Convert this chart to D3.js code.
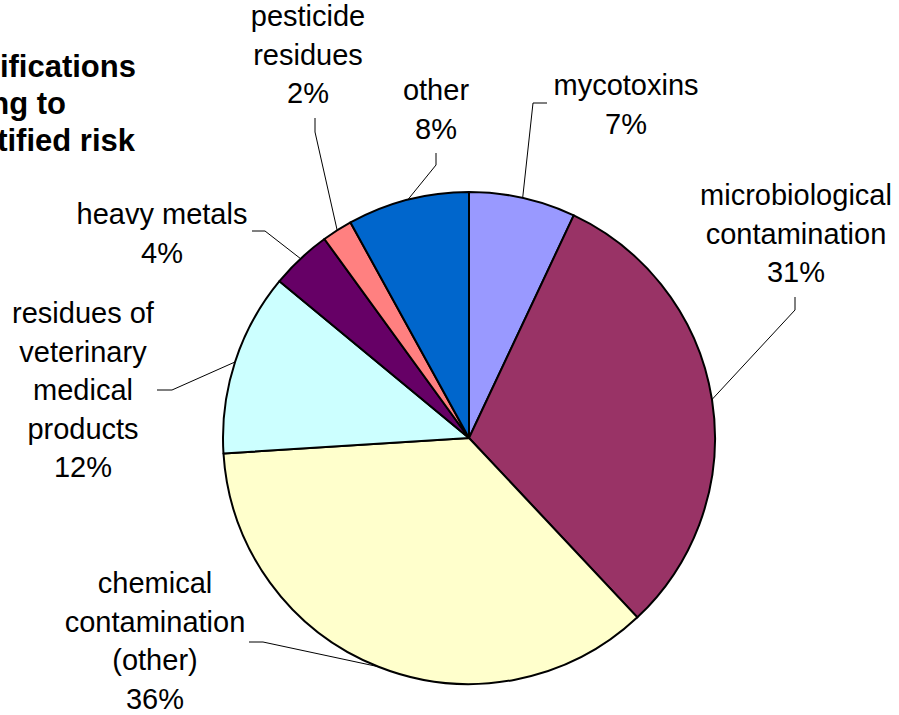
<!DOCTYPE html>
<html>
<head>
<meta charset="utf-8">
<script src="https://cdn.jsdelivr.net/npm/d3@7"></script>
<style>
  html, body { margin: 0; padding: 0; background: #fff; }
  svg { display: block; font-family: "Liberation Sans", Arial, sans-serif; }
</style>
</head>
<body>
<div id="chart"></div>
<script>
// categories, clockwise from 12 o'clock
const categories = ["mycotoxins", "microbiological contamination", "chemical contamination (other)",
  "residues of veterinary medical products", "heavy metals", "pesticide residues", "other"];
const shares = [7, 31, 36, 12, 4, 2, 8];
// how each label is broken into lines
const labelLines = [
  ["mycotoxins"],
  ["microbiological", "contamination"],
  ["chemical", "contamination", "(other)"],
  ["residues of", "veterinary", "medical", "products"],
  ["heavy metals"],
  ["pesticide", "residues"],
  ["other"]
];
const sliceColors = ["#9999FF", "#993366", "#FFFFCC", "#CCFFFF", "#660066", "#FF8080", "#0066CC"];
// visible part of the (clipped) title
const titleLines = ["ifications", "ng to", "tified risk"];

// label placement: text centre x, first baseline y, leader elbow and leader end
const labelLayout = [
  { x: 626, y: 95,  elbow: [533, 103], end: [547, 103] },
  { x: 796, y: 205, elbow: [795, 310], end: [795, 297] },
  { x: 155, y: 593, elbow: [263, 642], end: [249, 642] },
  { x: 83,  y: 323, elbow: [172, 390], end: [157, 390] },
  { x: 162, y: 224, elbow: [265, 231], end: [252, 231] },
  { x: 308, y: 26,  elbow: [315, 132], end: [315, 118] },
  { x: 436, y: 100, elbow: [436, 165], end: [436, 153] }
];

const width = 899, height = 715;
const cx = 469, cy = 438, radius = 246;
const lineH = 38.5;

const data = categories.map((c, i) => ({ name: c, value: shares[i], lines: labelLines[i], color: sliceColors[i], layout: labelLayout[i] }));

const svg = d3.select("#chart")
  .append("svg")
  .attr("width", width)
  .attr("height", height);

const pie = d3.pie()
  .sort(null)
  .value(d => d.value);

const arc = d3.arc()
  .innerRadius(0)
  .outerRadius(radius);

const arcs = pie(data);

const g = svg.append("g")
  .attr("transform", `translate(${cx},${cy})`);

g.selectAll("path.slice")
  .data(arcs)
  .enter().append("path")
  .attr("class", "slice")
  .attr("d", arc)
  .attr("fill", d => d.data.color)
  .attr("stroke", "#000")
  .attr("stroke-width", 2)
  .attr("stroke-linejoin", "round");

// leader lines: from the rim at the slice's mid angle to the label
const edgePoint = d => {
  const a = (d.startAngle + d.endAngle) / 2;
  return [cx + Math.sin(a) * radius, cy - Math.cos(a) * radius];
};

svg.selectAll("polyline.leader")
  .data(arcs)
  .enter().append("polyline")
  .attr("class", "leader")
  .attr("points", d => [edgePoint(d), d.data.layout.elbow, d.data.layout.end].map(p => p.join(",")).join(" "))
  .attr("fill", "none")
  .attr("stroke", "#000")
  .attr("stroke-width", 1);

// labels
const labels = svg.selectAll("text.label")
  .data(arcs)
  .enter().append("text")
  .attr("class", "label")
  .attr("text-anchor", "middle")
  .attr("font-size", 29)
  .attr("fill", "#000");

labels.each(function (d) {
  const t = d3.select(this);
  const rows = d.data.lines.concat([d.data.value + "%"]);
  rows.forEach((row, i) => {
    t.append("tspan")
      .attr("x", d.data.layout.x)
      .attr("y", d.data.layout.y + i * lineH)
      .text(row);
  });
});

// title, cut off at the left edge as in the original
svg.append("g")
  .selectAll("text")
  .data(titleLines)
  .enter().append("text")
  .attr("x", (d, i) => [136, 66, 135][i])
  .attr("y", (d, i) => 77 + i * 37)
  .attr("text-anchor", "end")
  .attr("font-size", 31)
  .attr("font-weight", "bold")
  .text(d => d);
</script>
</body>
</html>
